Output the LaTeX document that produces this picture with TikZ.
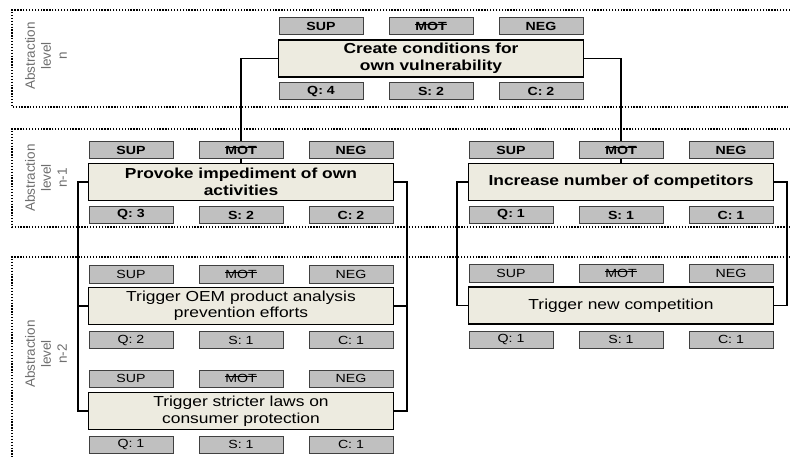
\documentclass[tikz,border=0pt]{standalone}
\usepackage{fontspec}
\setmainfont{Liberation Sans}[FakeStretch=1.2]
\newfontfamily\lblfont{Liberation Sans}
\usetikzlibrary{backgrounds}
\definecolor{boxfill}{HTML}{EDEBE0}
\definecolor{tagfill}{HTML}{C0C0C0}
\definecolor{tagline}{HTML}{404040}
\definecolor{lblgray}{HTML}{6E6E6E}
% struck-through text (MOT)
\newcommand\strk[1]{\setbox0\hbox{#1}\rlap{\copy0}\rule[.52em]{\wd0}{.9pt}}
% a row of three tags: prefix, x centre, y centre, style, three texts
\newcommand\tagrow[7]{%
  \node[#4] (#1a) at (#2-110,#3) {#5};
  \node[#4] (#1b) at (#2,#3) {#6};
  \node[#4] (#1c) at (#2+110,#3) {#7};}
\tikzset{
  goal/.style={draw=black, line width=1.6pt, fill=boxfill, minimum width=305pt,
    minimum height=37pt, inner sep=0pt, align=center,
    font=\fontsize{14.5}{16.5}\selectfont},
  goalb/.style={goal, font=\fontsize{14.5}{16.5}\selectfont\bfseries},
  tagbox/.style={draw=tagline, line width=1pt, fill=tagfill, minimum width=84pt,
    minimum height=17pt, inner sep=0pt, font=\fontsize{11.8}{13}\selectfont},
  tagb/.style={tagbox, font=\fontsize{11.8}{13}\selectfont\bfseries},
  link/.style={draw=black, line width=1.8pt},
  level/.style={draw=black, line width=1.3pt, dash pattern=on 1.3pt off 1.6pt},
  lvllabel/.style={rotate=90, align=center, text=lblgray,
    font=\lblfont\fontsize{13.5}{16}\selectfont}
}
\begin{document}
\begin{tikzpicture}[x=1pt, y=-1pt]
\useasboundingbox (0,0) rectangle (790,457);

% abstraction levels
\draw[level] (790,10) -- (12,10) -- (12,107) -- (790,107);
\draw[level] (790,129) -- (12,129) -- (12,227) -- (790,227);
\draw[level] (790,257) -- (12,257) -- (12,460);
\node[lvllabel] (labn)  at (46,56)  {Abstraction\\level\\n};
\node[lvllabel] (labn1) at (46,178) {Abstraction\\level\\n-1};
\node[lvllabel] (labn2) at (46,354) {Abstraction\\level\\n-2};

% level n
\node[goalb] (top) at (431,58.5) {Create conditions for\\own vulnerability};
\tagrow{topu}{431}{26.5}{tagb}{SUP}{\strk{MOT}}{NEG}
\tagrow{topd}{431}{91.5}{tagb}{Q: 4}{S: 2}{C: 2}

% level n-1
\node[goalb] (prov) at (241,182) {Provoke impediment of own\\activities};
\tagrow{provu}{241}{150}{tagb}{SUP}{\strk{MOT}}{NEG}
\tagrow{provd}{241}{215}{tagb}{Q: 3}{S: 2}{C: 2}

\node[goalb] (inc) at (621,182) {Increase number of competitors};
\tagrow{incu}{621}{150}{tagb}{SUP}{\strk{MOT}}{NEG}
\tagrow{incd}{621}{215}{tagb}{Q: 1}{S: 1}{C: 1}

% level n-2
\node[goal] (oem) at (241,306) {Trigger OEM product analysis\\prevention efforts};
\tagrow{oemu}{241}{274.5}{tagbox}{SUP}{\strk{MOT}}{NEG}
\tagrow{oemd}{241}{340}{tagbox}{Q: 2}{S: 1}{C: 1}

\node[goal] (law) at (241,411) {Trigger stricter laws on\\consumer protection};
\tagrow{lawu}{241}{378.5}{tagbox}{SUP}{\strk{MOT}}{NEG}
\tagrow{lawd}{241}{444.5}{tagbox}{Q: 1}{S: 1}{C: 1}

\node[goal] (comp) at (621,305.5) {Trigger new competition};
\tagrow{compu}{621}{273.5}{tagbox}{SUP}{\strk{MOT}}{NEG}
\tagrow{compd}{621}{339.5}{tagbox}{Q: 1}{S: 1}{C: 1}

% decomposition links
\coordinate (pl) at (78,182);
\coordinate (pr) at (407,182);
\coordinate (il) at (457,182);
\coordinate (ir) at (787,182);
\begin{scope}[on background layer]
  \draw[link] (top.west) -| (prov.north);
  \draw[link] (top.east) -| (inc.north);
  \draw[link] (prov.west) -- (pl) |- (oem.west);
  \draw[link] (pl) |- (law.west);
  \draw[link] (prov.east) -- (pr) |- (oem.east);
  \draw[link] (pr) |- (law.east);
  \draw[link] (inc.west) -- (il) |- (comp.west);
  \draw[link] (inc.east) -- (ir) |- (comp.east);
\end{scope}
\end{tikzpicture}
\end{document}
